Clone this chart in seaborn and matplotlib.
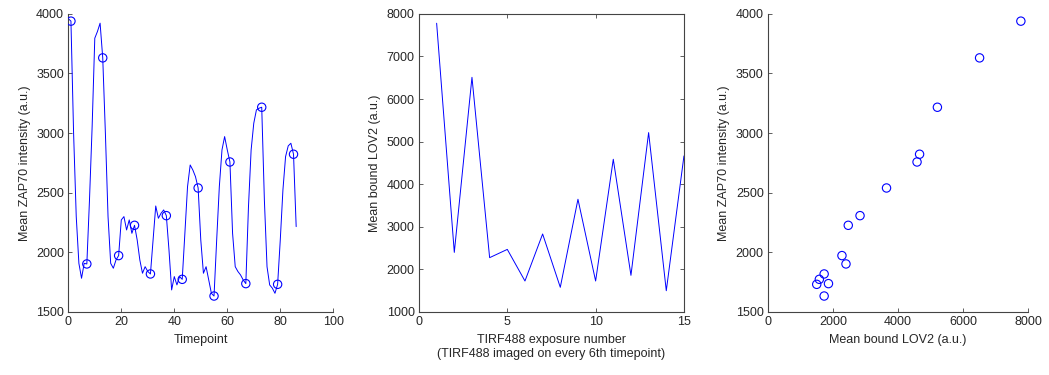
import numpy as np
import pandas as pd
import seaborn as sns
import matplotlib.pyplot as plt

# mean ZAP70 intensity per timepoint (0..86)
timepoint = np.arange(0, 87)
zap70 = [3960, 3939, 3000, 2300, 1908, 1783, 1908, 1903, 2440, 3055,
         3796, 3852, 3922, 3631, 3000, 2300, 1908, 1867, 1936, 1973,
         2272, 2300, 2188, 2272, 2160, 2227, 2104, 1936, 1825, 1880,
         1840, 1819, 2104, 2389, 2286, 2328, 2356, 2308, 2020, 1685,
         1797, 1727, 1797, 1774, 2160, 2551, 2733, 2691, 2635, 2540,
         2104, 1825, 1880, 1769, 1657, 1634, 2104, 2551, 2859, 2971,
         2859, 2758, 2160, 1880, 1840, 1811, 1769, 1738, 2383, 2859,
         3083, 3195, 3209, 3217, 2440, 1880, 1727, 1700, 1657, 1732,
         2104, 2523, 2803, 2893, 2915, 2823, 2216]

# mean bound LOV2 per TIRF488 exposure (every 6th timepoint, starting at 1)
exposure = np.arange(1, 16)
lov2 = [7780, 2400, 6510, 2276, 2470, 1728, 2832, 1580, 3647, 1728,
        4586, 1861, 5212, 1500, 4664]

df_t = pd.DataFrame({'timepoint': timepoint, 'zap70': zap70})
df_e = df_t.iloc[1::6].reset_index(drop=True)
df_e['exposure'] = exposure
df_e['lov2'] = lov2

sns.set_style("ticks")
plt.rcParams['font.family'] = ['Liberation Sans Narrow', 'Liberation Sans', 'DejaVu Sans']
plt.rcParams['xtick.direction'] = 'in'
plt.rcParams['ytick.direction'] = 'in'

fig = plt.figure(figsize=(10.49, 3.75), dpi=100)
ax1 = fig.add_axes([0.0651, 0.168, 0.2526, 0.795])
ax2 = fig.add_axes([0.3994, 0.168, 0.2526, 0.795])
ax3 = fig.add_axes([0.7321, 0.168, 0.2479, 0.795])

blue = (0, 0, 1)
fs = 9

# left: ZAP70 trace over time
sns.lineplot(data=df_t, x='timepoint', y='zap70', ax=ax1, color=blue, linewidth=0.7)
sns.scatterplot(data=df_e, x='timepoint', y='zap70', ax=ax1, marker='o',
                facecolor='none', edgecolor=blue, linewidth=0.8, s=36, zorder=3)
ax1.set_xlim(0, 100)
ax1.set_ylim(1500, 4000)
ax1.set_xticks(range(0, 101, 20))
ax1.set_yticks(range(1500, 4001, 500))
ax1.set_xlabel('Timepoint', fontsize=fs)
ax1.set_ylabel('Mean ZAP70 intensity (a.u.)', fontsize=fs)

# middle: LOV2 per exposure
sns.lineplot(data=df_e, x='exposure', y='lov2', ax=ax2, color=blue, linewidth=0.7)
ax2.set_xlim(0, 15)
ax2.set_ylim(1000, 8000)
ax2.set_xticks([0, 5, 10, 15])
ax2.set_yticks(range(1000, 8001, 1000))
ax2.tick_params(top=True, right=True)
ax2.set_xlabel('TIRF488 exposure number\n(TIRF488 imaged on every 6th timepoint)', fontsize=fs)
ax2.set_ylabel('Mean bound LOV2 (a.u.)', fontsize=fs)

# right: ZAP70 vs LOV2
sns.scatterplot(data=df_e, x='lov2', y='zap70', ax=ax3, marker='o',
                facecolor='none', edgecolor=blue, linewidth=0.8, s=36)
ax3.set_xlim(0, 8000)
ax3.set_ylim(1500, 4000)
ax3.set_xticks(range(0, 8001, 2000))
ax3.set_yticks(range(1500, 4001, 500))
ax3.set_xlabel('Mean bound LOV2 (a.u.)', fontsize=fs)
ax3.set_ylabel('Mean ZAP70 intensity (a.u.)', fontsize=fs)

for ax in (ax1, ax3):
    ax.spines['top'].set_visible(False)
    ax.spines['right'].set_visible(False)

for ax in (ax1, ax2, ax3):
    ax.tick_params(labelsize=fs, length=3, width=0.6, color='#444444', pad=3)
    for sp in ax.spines.values():
        sp.set_color('#444444')
        sp.set_linewidth(0.8)

fig.savefig('out.png', dpi=100)
